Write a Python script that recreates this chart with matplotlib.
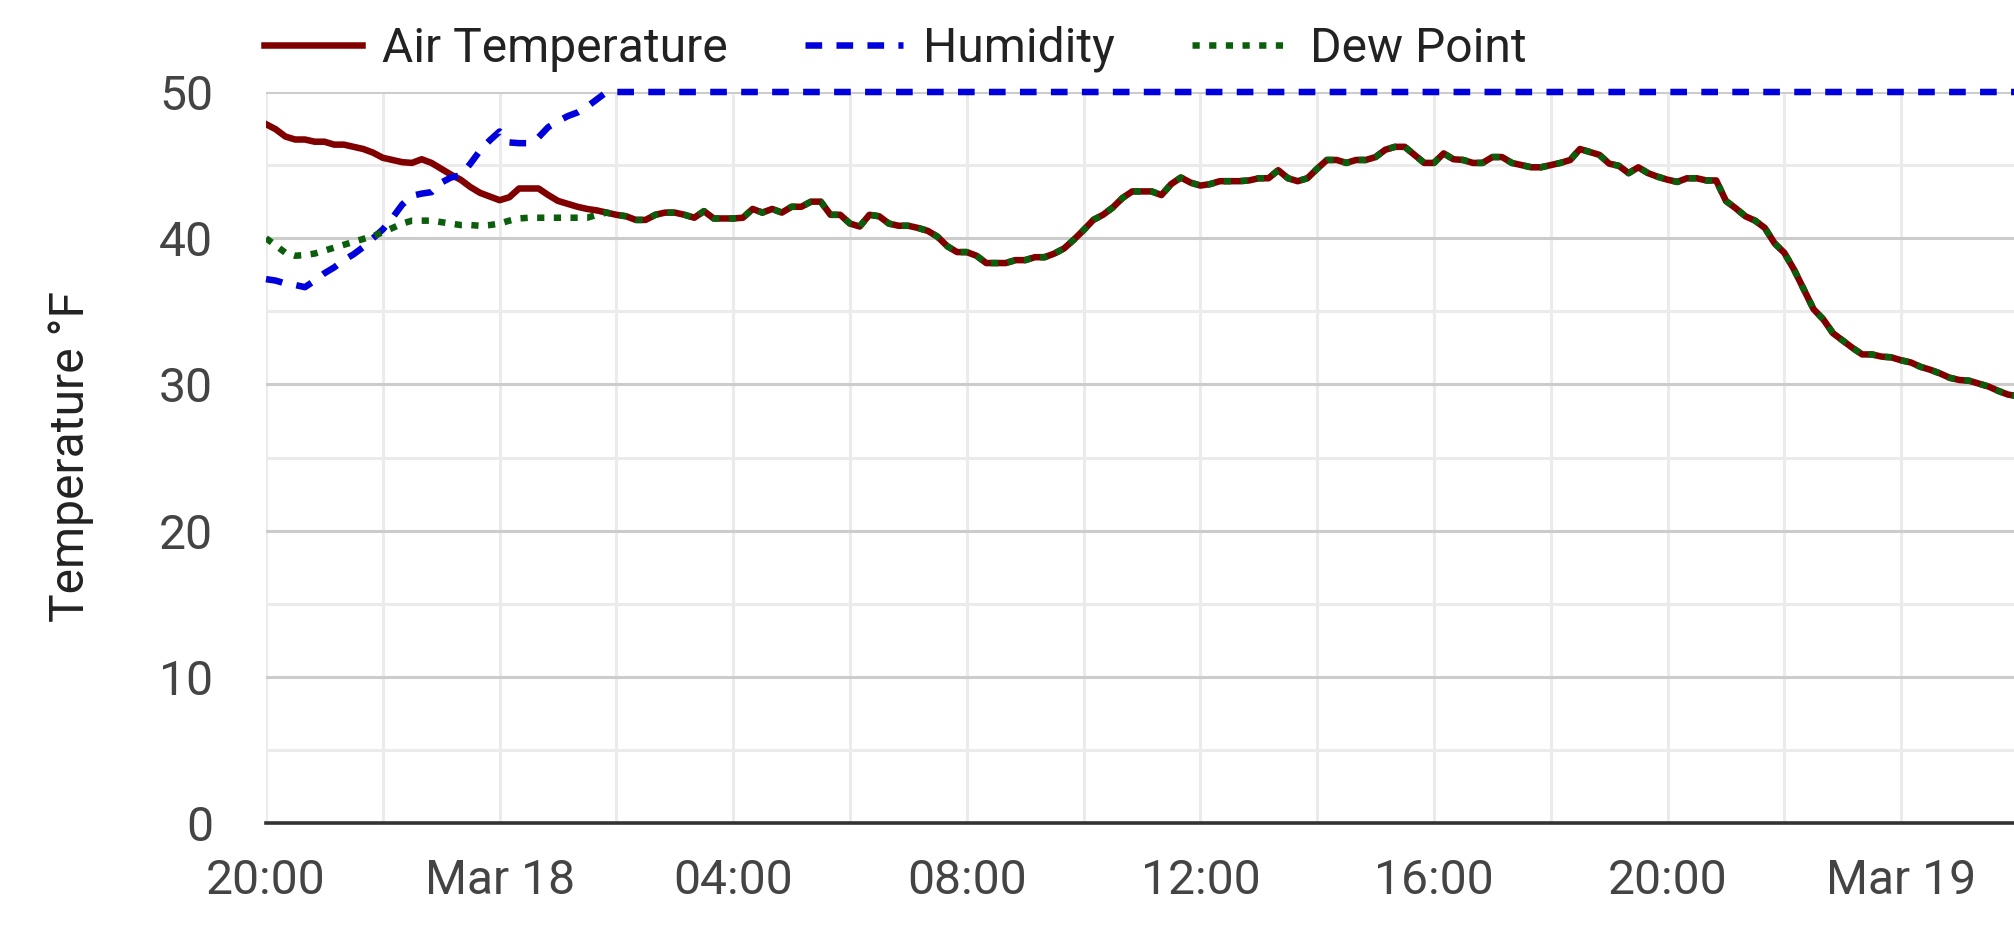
import matplotlib
matplotlib.use('Agg')
import matplotlib.pyplot as plt
import matplotlib.dates as mdates
import pandas as pd
from matplotlib.ticker import FuncFormatter, MultipleLocator

plt.rcParams['font.family'] = ['Roboto', 'DejaVu Sans']
plt.rcParams['lines.scale_dashes'] = False

# --readings every 10 minutes, Mar 17 20:00 -> Mar 19 02:00
times = pd.date_range('2025-03-17 20:00', periods=181, freq='10min')

air_temp = [
    47.8, 47.45, 46.95, 46.75, 46.75, 46.6, 46.6, 46.4, 46.4, 46.25,
    46.1, 45.85, 45.5, 45.35, 45.2, 45.15, 45.4, 45.15, 44.75, 44.35,
    44.0, 43.5, 43.1, 42.85, 42.6, 42.8, 43.4, 43.4, 43.4, 42.95,
    42.55, 42.35, 42.15, 42.0, 41.9, 41.75, 41.6, 41.5, 41.25, 41.25,
    41.6, 41.75, 41.75, 41.6, 41.4, 41.85, 41.35, 41.35, 41.35, 41.4,
    42.0, 41.75, 42.0, 41.75, 42.15, 42.15, 42.5, 42.5, 41.6, 41.6,
    41.0, 40.8, 41.6, 41.5, 41.0, 40.85, 40.85, 40.7, 40.5, 40.1,
    39.45, 39.05, 39.05, 38.8, 38.3, 38.3, 38.3, 38.5, 38.5, 38.7,
    38.7, 38.95, 39.3, 39.9, 40.55, 41.25, 41.6, 42.1, 42.75, 43.2,
    43.2, 43.2, 42.95, 43.7, 44.15, 43.8, 43.6, 43.7, 43.9, 43.9,
    43.9, 43.95, 44.1, 44.1, 44.65, 44.1, 43.9, 44.1, 44.75, 45.35,
    45.35, 45.15, 45.35, 45.35, 45.55, 46.05, 46.25, 46.25, 45.7, 45.15,
    45.15, 45.8, 45.4, 45.35, 45.15, 45.15, 45.55, 45.55, 45.15, 45.0,
    44.85, 44.85, 45.0, 45.15, 45.35, 46.1, 45.9, 45.7, 45.1, 44.95,
    44.45, 44.85, 44.45, 44.2, 44.0, 43.85, 44.1, 44.1, 43.95, 43.95,
    42.55, 42.05, 41.5, 41.2, 40.7, 39.65, 39.0, 37.85, 36.5, 35.15,
    34.45, 33.5, 33.0, 32.5, 32.05, 32.05, 31.9, 31.85, 31.65, 31.5,
    31.2, 31.0, 30.75, 30.45, 30.3, 30.25, 30.05, 29.85, 29.55, 29.3,
    29.2,
]

# --dew point until it meets the air temperature (saturated afterwards)
dew_early = [
    40.0, 39.5, 39.0, 38.8, 38.85, 38.95, 39.15, 39.35, 39.55, 39.75,
    39.95, 40.15, 40.4, 40.7, 41.0, 41.2, 41.2, 41.2, 41.1, 41.0,
    40.9, 40.9, 40.85, 40.9, 41.0, 41.2, 41.35, 41.4, 41.4, 41.4,
    41.4, 41.4, 41.4, 41.4, 41.6,
]
dew_point = dew_early + air_temp[len(dew_early):]

# --humidity as drawn, pinned at the top of the axis once it gets there
humidity_early = [
    37.2, 37.1, 36.9, 36.8, 36.65, 37.1, 37.6, 38.0, 38.5, 38.9,
    39.4, 40.0, 40.6, 41.4, 42.3, 42.9, 43.05, 43.15, 43.8, 44.15,
    44.3, 45.1, 46.0, 46.7, 47.3, 46.55, 46.5, 46.5, 46.9, 47.6,
    48.0, 48.35, 48.6, 49.0, 49.5, 50.0,
]
humidity = humidity_early + [50.0] * (len(air_temp) - len(humidity_early))

W, H = 2015, 950
fig = plt.figure(figsize=(W / 100, H / 100), dpi=100)
ax = fig.add_axes([266 / W, 1 - 823 / H, 1 - 266 / W, (823 - 92) / H])

lw = 4.7
ax.plot(times, air_temp, color='#800000', lw=lw, label='Air Temperature',
        solid_joinstyle='round', zorder=3)
ax.plot(times, humidity, color='#0000dd', lw=lw, dashes=(12, 10.3),
        label='Humidity', clip_on=False, zorder=4)
ax.plot(times, dew_point, color='#0b5e0b', lw=lw, dashes=(5.2, 6.8),
        label='Dew Point', zorder=5)

ax.set_ylim(0, 50)
ax.set_xlim(times[0], times[0] + pd.Timedelta(hours=29.95))

ax.yaxis.set_major_locator(MultipleLocator(10))
ax.yaxis.set_minor_locator(MultipleLocator(5))
ax.xaxis.set_major_locator(mdates.HourLocator(byhour=[0, 4, 8, 12, 16, 20]))
ax.xaxis.set_minor_locator(mdates.HourLocator(interval=2))


def fmt_time(x, pos):
    d = mdates.num2date(x)
    if d.hour == 0:
        return d.strftime('%b %d').replace(' 0', ' ')
    return d.strftime('%H:%M')


ax.xaxis.set_major_formatter(FuncFormatter(fmt_time))

ax.set_axisbelow(True)
ax.grid(which='major', axis='y', color='#cccccc', lw=2.2)
ax.grid(which='minor', axis='y', color='#ebebeb', lw=2.2)
ax.grid(which='both', axis='x', color='#ebebeb', lw=2.2)

for s in ['top', 'right', 'left']:
    ax.spines[s].set_visible(False)
ax.spines['bottom'].set_color('#333333')
ax.spines['bottom'].set_linewidth(2.6)
ax.spines['bottom'].set_zorder(6)

ax.tick_params(which='both', length=0)
ax.tick_params(axis='y', labelsize=34.6, labelcolor='#444444', pad=38)
ax.tick_params(axis='x', labelsize=34.6, labelcolor='#444444', pad=25)

fig.text(71 / W, 1 - 457 / H, 'Temperature °F', rotation=90,
         ha='center', va='center', fontsize=34.6, color='#222222')

fig.legend(loc='center left', bbox_to_anchor=(264 / W, 1 - 49 / H), ncol=3,
           frameon=False, fontsize=34.6, labelcolor='#222222',
           handlelength=2.04, handletextpad=0.42, columnspacing=1.6,
           borderpad=0, borderaxespad=0)

fig.savefig('out.png', dpi=100)
